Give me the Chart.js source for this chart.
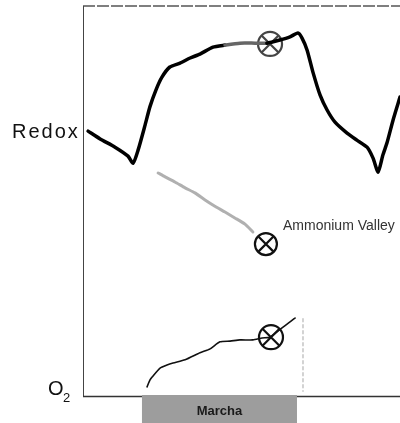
<!DOCTYPE html>
<html>
<head>
<meta charset="utf-8">
<script src="https://cdn.jsdelivr.net/npm/chart.js@4"></script>
<style>
html,body{margin:0;padding:0;background:#fff;}
canvas{display:block;}
</style>
</head>
<body>
<canvas id="c" width="400" height="423"></canvas>
<script>
// ---- data (time axis 0..100, signal axis 0..100) ----
const redoxX = [1.6,5.4,10.1,14.2,15.8,17.4,19.6,21.1,23.0,24.9,27.4,30.6,33.8,36.9,41.0,44.8,49.5,54.3,58.0,62.1,65.3,67.8,69.1,70.7,72.6,74.8,77.0,79.5,83.3,86.4,89.6,91.5,93.1,94.6,95.9,97.8,100];
const redoxY = [68.0,66.0,63.9,61.6,59.8,63.2,69.6,74.2,78.5,81.8,84.4,85.4,86.7,87.7,89.5,90.0,90.5,90.5,90.5,91.3,92.1,93.1,91.8,88.7,82.9,77.2,73.4,70.3,67.5,65.7,63.9,61.1,57.5,61.9,65.0,70.8,76.7];

const phX = [23.7,25.9,29.0,32.2,35.3,38.5,41.6,44.8,47.9,51.1,53.6];
const phY = [57.3,56.3,55.0,53.5,52.2,50.4,48.8,47.3,45.8,44.2,42.2];

const o2X = [20.2,21.1,21.8,24.3,26.5,28.4,32.2,36.9,40.1,43.2,46.4,49.5,53.6,56.5,59.0,63.1,65.3,66.9];
const o2Y = [2.6,4.3,5.1,7.4,8.2,8.7,9.5,11.3,12.3,14.1,14.3,14.6,14.6,15.1,15.3,17.9,19.2,20.2];

const markerX = [59.0, 57.7, 59.3];
const markerY = [90.3, 39.1, 15.3];

const stopX = [69.4, 69.4];
const stopY = [20.0, 1.5];

const marcheRange = [18.6, 67.5];
const marcheLabel = "Marcha";
const axisLabels = {redox: "Redox", o2: "O", o2sub: "2", valley: "Ammonium Valley"};

const pts = (xs, ys) => xs.map((x, i) => ({x: x, y: ys[i]}));

const decor = {
  id: 'decor',
  beforeDatasetsDraw(chart) {
    const {ctx, chartArea: a} = chart;
    ctx.save();
    // top border
    ctx.strokeStyle = '#555';
    ctx.lineWidth = 1.5;
    ctx.setLineDash([12, 2]);
    ctx.beginPath(); ctx.moveTo(a.left, a.top); ctx.lineTo(a.right, a.top); ctx.stroke();
    ctx.setLineDash([]);
    // left axis
    ctx.strokeStyle = '#444';
    ctx.lineWidth = 1;
    ctx.beginPath(); ctx.moveTo(a.left + 0.5, a.top); ctx.lineTo(a.left + 0.5, a.bottom); ctx.stroke();
    // bottom axis
    ctx.strokeStyle = '#333';
    ctx.lineWidth = 1.5;
    ctx.beginPath(); ctx.moveTo(a.left, a.bottom - 0.5); ctx.lineTo(a.right, a.bottom - 0.5); ctx.stroke();
    ctx.restore();
  },
  afterDraw(chart) {
    const {ctx, chartArea: a, scales: {x, y}} = chart;
    ctx.save();
    // Marche bar
    const x0 = x.getPixelForValue(marcheRange[0]);
    const x1 = x.getPixelForValue(marcheRange[1]);
    ctx.fillStyle = '#9d9d9d';
    ctx.fillRect(x0, a.bottom - 2, x1 - x0, chart.height - a.bottom + 2);
    ctx.fillStyle = '#1a1a1a';
    ctx.font = 'bold 13px "Liberation Sans", Arial, sans-serif';
    ctx.textAlign = 'center';
    ctx.textBaseline = 'alphabetic';
    ctx.fillText(marcheLabel, (x0 + x1) / 2, 415);
    // axis labels
    ctx.textAlign = 'left';
    ctx.fillStyle = '#111';
    ctx.font = '20px "Liberation Sans", Arial, sans-serif';
    ctx.letterSpacing = '2px';
    ctx.fillText(axisLabels.redox, 12, 138);
    ctx.letterSpacing = '0px';
    ctx.fillText(axisLabels.o2, 48, 395);
    ctx.font = '13px "Liberation Sans", Arial, sans-serif';
    ctx.fillText(axisLabels.o2sub, 63, 402);
    // valley label
    ctx.fillStyle = '#333';
    ctx.font = '14px "Liberation Sans", Arial, sans-serif';
    ctx.fillText(axisLabels.valley, 283, 230);
    ctx.restore();
  }
};

new Chart(document.getElementById('c'), {
  type: 'line',
  data: {
    datasets: [
      {
        label: 'Redox', data: pts(redoxX, redoxY),
        borderColor: '#000', borderWidth: 3.5, pointRadius: 0, tension: 0.2,
        segment: { borderColor: c => (c.p0.parsed.x >= 44 && c.p1.parsed.x <= 59) ? '#666' : '#000' }
      },
      {
        label: 'pH', data: pts(phX, phY),
        borderColor: 'rgba(150,150,150,0.75)', borderWidth: 3, pointRadius: 0, tension: 0.2
      },
      {
        label: 'O2', data: pts(o2X, o2Y),
        borderColor: '#111', borderWidth: 1.6, pointRadius: 0, tension: 0.2
      },
      {
        label: 'stop', data: pts(stopX, stopY),
        borderColor: '#c4c4c4', borderWidth: 1.5, borderDash: [3, 3], pointRadius: 0
      },
      {
        label: 'markerCircle', data: pts(markerX, markerY), showLine: false,
        pointStyle: 'circle', pointRadius: [12, 11, 12],
        pointBackgroundColor: 'rgba(255,255,255,0)',
        pointBorderColor: ['#444', '#111', '#111'], pointBorderWidth: 2.2
      },
      {
        label: 'markerCross', data: pts(markerX, markerY), showLine: false,
        pointStyle: 'crossRot', pointRadius: [12, 11, 12],
        pointBorderColor: ['#444', '#111', '#111'], pointBorderWidth: 2.2
      }
    ]
  },
  options: {
    responsive: false,
    animation: false,
    devicePixelRatio: 1,
    layout: { autoPadding: false, padding: { left: 83, top: 6, right: 0, bottom: 26 } },
    plugins: { legend: { display: false }, tooltip: { enabled: false } },
    scales: {
      x: { type: 'linear', min: 0, max: 100, display: false },
      y: { type: 'linear', min: 0, max: 100, display: false }
    },
    elements: { line: { borderCapStyle: 'round', borderJoinStyle: 'round' } },
    clip: false
  },
  plugins: [decor]
});
</script>
</body>
</html>
